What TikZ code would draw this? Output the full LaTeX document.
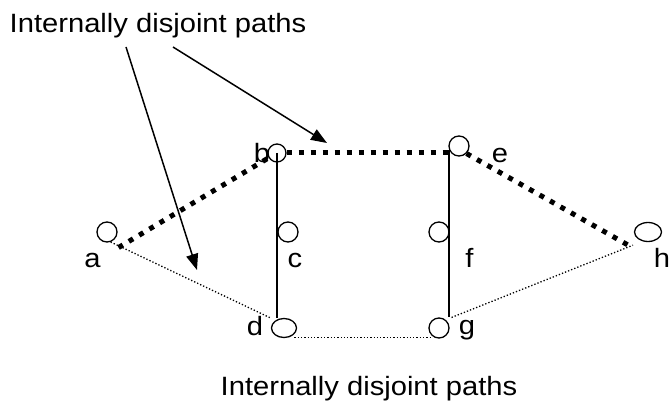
\documentclass[tikz,border=0pt]{standalone}
\usepackage{fontspec}
\setmainfont{Liberation Sans}[FakeStretch=1.1]
\usetikzlibrary{arrows.meta}
\usetikzlibrary{shapes.geometric}

\tikzset{
vertex/.style={circle, draw, line width=1.3pt, minimum size=20pt, inner sep=0pt},
oval/.style={ellipse, draw, line width=1.3pt, minimum width=25pt, minimum height=19pt, inner sep=0pt},
lbl/.style={anchor=base, inner sep=0pt, font=\fontsize{26.5}{30}\selectfont},
thickdots/.style={line width=5pt, dash pattern=on 5pt off 7pt},
thindots/.style={line width=1.3pt, dash pattern=on 1.3pt off 2pt},
pointer/.style={line width=1.5pt, -{Triangle[length=16pt,width=12pt]}},
}

\begin{document}
\begin{tikzpicture}[x=1pt,y=-1pt]
\useasboundingbox (0,0) rectangle (671,406);

% vertices
\node[vertex] (a) at (107,232) {};
\node[vertex, minimum size=18pt] (b) at (277,153) {};
\node[vertex] (c) at (288,232) {};
\node[oval] (d) at (284,328) {};
\node[vertex] (e) at (459,146) {};
\node[vertex] (f) at (439,232) {};
\node[vertex] (g) at (439,328) {};
\node[oval, minimum width=27pt] (h) at (648,232) {};

% vertex names
\node[lbl] (la) at (92.5,267) {a};
\node[lbl] (lb) at (262,163) {b};
\node[lbl] (lc) at (295,267) {c};
\node[lbl] (ld) at (255,335) {d};
\node[lbl] (le) at (500,163) {e};
\node[lbl] (lf) at (469.5,267) {f};
\node[lbl] (lg) at (467,334) {g};
\node[lbl] (lh) at (662,267) {h};

% upper path a-b-e-h
\draw[thickdots] ([shift={(4,8)}]a.south east) -- (b.210);
\draw[thickdots] (b.east) -- (b.east -| e.west);
\draw[thickdots] (e.-45) -- ([shift={(-8,7)}]h.south west);

% lower path a-d-g-h
\draw[thindots] (a.-70) -- ([shift={(-3,-4)}]d.150);
\draw[thindots] ([shift={(1,2)}]d.south east) -- ([shift={(1,2)}]d.south east -| g.south west);
\draw[thindots] ([shift={(5,-3)}]g.north east) -- ([shift={(-5,6)}]h.south west);

% rungs
\draw[line width=1.3pt] (b.center) -- (b.center |- d.north);
\draw[line width=1.3pt] (e.200) -- (e.200 |- g.north);

% captions
\node[lbl] (toptext) at (158,33) {Internally disjoint paths};
\node[lbl] (bottomtext) at (369,395) {Internally disjoint paths};

\coordinate (tipad) at (197,270);
\coordinate (tipbe) at (327,143);
\draw[pointer] ([shift={(-32,14)}]toptext.base) -- (tipad);
\draw[pointer] ([shift={(15,14)}]toptext.base) -- (tipbe);

\end{tikzpicture}
\end{document}
